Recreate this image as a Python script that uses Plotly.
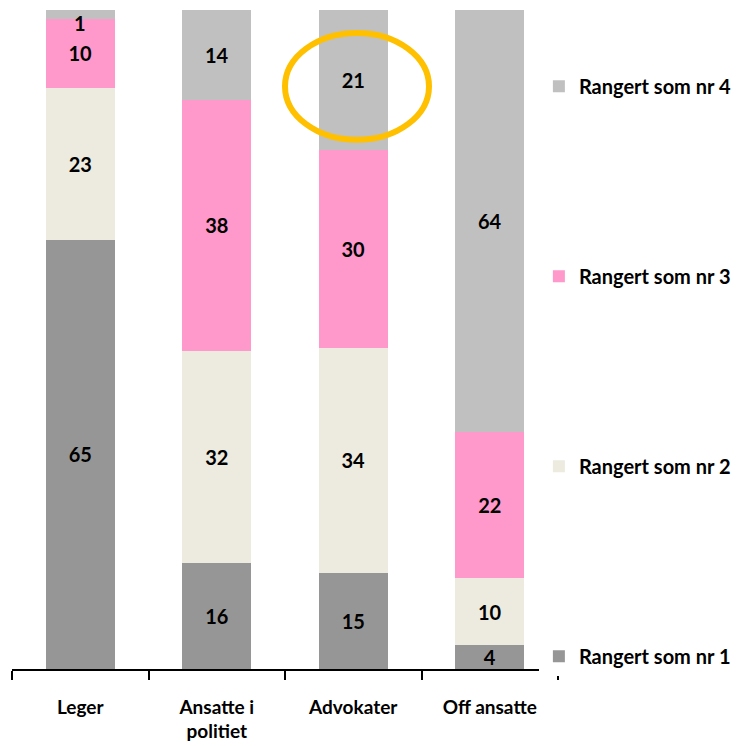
import plotly.graph_objects as go

categories = ["Leger", "Ansatte i<br>politiet", "Advokater", "Off ansatte"]
series_names = ["Rangert som nr 1", "Rangert som nr 2", "Rangert som nr 3", "Rangert som nr 4"]
nr1 = [65.1, 16.1, 14.6, 3.6]
nr2 = [23.1, 32.2, 34.1, 10.2]
nr3 = [10.4, 38.1, 30.0, 22.1]
nr4 = [1.4, 13.6, 21.3, 64.1]
colors = ["#969696", "#EDEBE0", "#FF99CC", "#C0C0C0"]

FONT = "Lato"
series = [nr1, nr2, nr3, nr4]
fig = go.Figure()
for i, (name, vals) in enumerate(zip(series_names, series)):
    labels = ["<b>%d</b>" % round(v) for v in vals]
    if i == 3:
        labels[0] = ""  # too thin a segment: label placed under the bar top below
    fig.add_trace(go.Bar(
        x=categories, y=vals, name="<b>" + name + "</b>", legendgroup=name,
        legendrank=4 - i,
        marker=dict(color=colors[i], line=dict(width=0)),
        text=labels, texttemplate="%{text}", textposition="inside",
        insidetextanchor="middle", textangle=0,
        textfont=dict(size=20, color="black", family=FONT),
    ))

leger_total = sum(s[0] for s in series)
thin_label = dict(
    x=categories[0], y=leger_total, xref="x", yref="y",
    yanchor="top", showarrow=False, borderpad=0,
    text="<b>%d</b>" % round(nr4[0]),
    font=dict(size=20, color="black", family=FONT),
)

# page body has an 8px margin, so the figure is 739x738 to fit the window
fig.update_layout(
    barmode="stack", bargap=0.495,
    width=739, height=738,
    margin=dict(l=4, r=189, t=2, b=77, autoexpand=False),
    plot_bgcolor="white", paper_bgcolor="white",
    uniformtext=dict(minsize=20, mode="show"),
    font=dict(family=FONT, color="black"),
    legend=dict(
        x=0.965, xanchor="left", y=0.914, yanchor="top",
        traceorder="grouped", tracegroupgap=161,
        font=dict(size=20, family=FONT, color="black"),
        itemwidth=30,
    ),
    xaxis=dict(
        showline=True, linecolor="black", linewidth=1.5,
        ticks="outside", tickson="boundaries", ticklen=9, tickwidth=1.5, tickcolor="black",
        tickfont=dict(size=19, family=FONT, color="black", weight="bold"),
        ticklabelstandoff=20,
    ),
    yaxis=dict(range=[0, 100], visible=False, showgrid=False),
    annotations=[thin_label],
    shapes=[dict(
        type="circle", xref="x", yref="y",
        x0=1.5, x1=2.555, y0=80.3, y1=96.5,
        line=dict(color="#FFC000", width=6),
    )],
)

fig.write_html("out.html")
